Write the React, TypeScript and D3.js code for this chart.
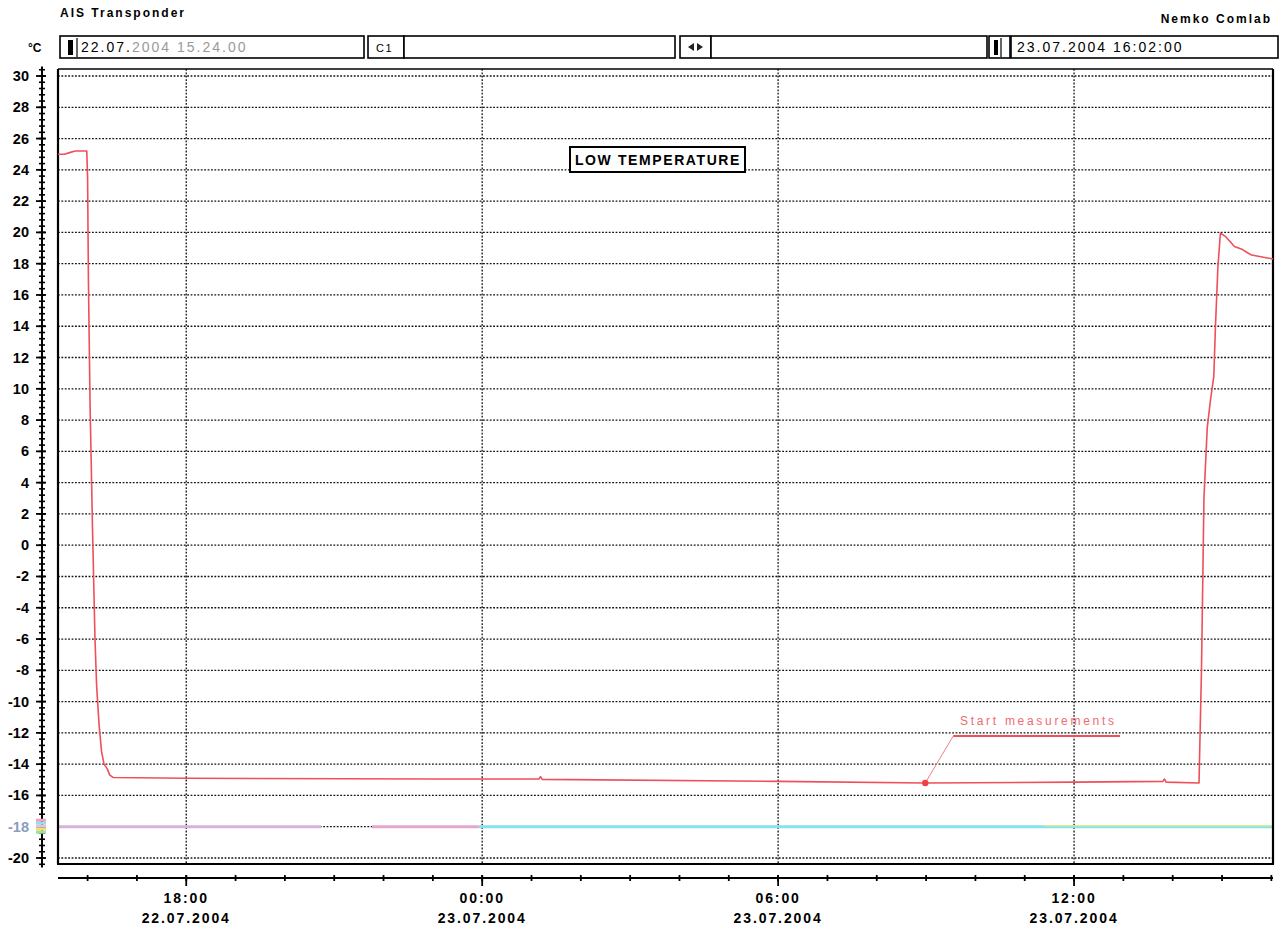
import React from "react";
import * as d3 from "d3";

const W = 1284;
const H = 932;

// Temperature series (time, °C)
const tempTimes = [
  "2004-07-22T15:24", "2004-07-22T15:32", "2004-07-22T15:38", "2004-07-22T15:45", "2004-07-22T15:59",
  "2004-07-22T16:00", "2004-07-22T16:01", "2004-07-22T16:03", "2004-07-22T16:06", "2004-07-22T16:09",
  "2004-07-22T16:11", "2004-07-22T16:14", "2004-07-22T16:17", "2004-07-22T16:20", "2004-07-22T16:24",
  "2004-07-22T16:27", "2004-07-22T16:31", "2004-07-22T18:00", "2004-07-22T23:00", "2004-07-23T01:09",
  "2004-07-23T01:11", "2004-07-23T01:13", "2004-07-23T06:00", "2004-07-23T08:59", "2004-07-23T12:00",
  "2004-07-23T13:48", "2004-07-23T13:50", "2004-07-23T13:52", "2004-07-23T14:32", "2004-07-23T14:35",
  "2004-07-23T14:38", "2004-07-23T14:42", "2004-07-23T14:46", "2004-07-23T14:50", "2004-07-23T14:52",
  "2004-07-23T14:55", "2004-07-23T14:58", "2004-07-23T15:04", "2004-07-23T15:10", "2004-07-23T15:15",
  "2004-07-23T15:25", "2004-07-23T15:31", "2004-07-23T15:36", "2004-07-23T15:52", "2004-07-23T16:02",
];
const tempValues = [
  25.0, 25.0, 25.1, 25.2, 25.2,
  23.5, 17.0, 9.0, 1.0, -6.0,
  -9.0, -11.5, -13.2, -14.0, -14.3,
  -14.7, -14.85, -14.9, -14.95, -14.95,
  -14.8, -14.97, -15.1, -15.2, -15.15,
  -15.1, -14.95, -15.15, -15.2, -8.0,
  3.0, 7.5, 9.3, 10.8, 14.0,
  17.8, 19.95, 19.75, 19.4, 19.1,
  18.9, 18.7, 18.55, 18.4, 18.3,
];

const yTicks = [30, 28, 26, 24, 22, 20, 18, 16, 14, 12, 10, 8, 6, 4, 2, 0, -2, -4, -6, -8, -10, -12, -14, -16, -18, -20];
const xMajorTicks = ["2004-07-22T18:00", "2004-07-23T00:00", "2004-07-23T06:00", "2004-07-23T12:00"];
const xTimeLabels = ["18:00", "00:00", "06:00", "12:00"];
const xDateLabels = ["22.07.2004", "23.07.2004", "23.07.2004", "23.07.2004"];

// reference line at -18 (segments)
const refValue = -18;
const refStarts = ["2004-07-22T15:24", "2004-07-22T21:46", "2004-07-22T23:56"];
const refEnds = ["2004-07-22T20:44", "2004-07-22T23:56", "2004-07-23T16:02"];
const refColors = ["#d8b0dc", "#e4a8cc", "#86e2ec"];

const startTime = "2004-07-22T15:24";
const endTime = "2004-07-23T16:02";
const endLabel = "23.07.2004 16:02:00";
const title = "LOW TEMPERATURE";
const chartName = "AIS Transponder";
const labName = "Nemko Comlab";
const annotationText = "Start measurements";
const annotationTime = "2004-07-23T08:59";
const annotationValue = -15.2;

const parse = d3.timeParse("%Y-%m-%dT%H:%M");
const FONT = "'Liberation Sans', Arial, sans-serif";

export default function App() {
  const x = d3.scaleTime().domain([parse(startTime)!, parse(endTime)!]).range([58, 1273]);
  const y = d3.scaleLinear().domain([-20, 30]).range([858, 76]);

  const pts: [Date, number][] = tempTimes.map((t, i) => [parse(t)!, tempValues[i]]);
  const line = d3
    .line<[Date, number]>()
    .x((d) => x(d[0]))
    .y((d) => y(d[1]));

  const plotL = 58, plotR = 1273, plotT = 69, plotB = 864;
  const axisY = 878;
  const spineX = 42;

  const minorHours = d3.timeHour.range(parse(startTime)!, parse(endTime)!);
  const minorY = d3.range(-20.4, 30.41, 0.4);

  const annX = x(parse(annotationTime)!);
  const annY = y(annotationValue);

  const box = (x0: number, x1: number, key: string) => (
    <rect key={key} x={x0} y={36} width={x1 - x0} height={22} fill="#fff" stroke="#000" strokeWidth={1.6} />
  );

  return (
    <svg width={W} height={H} style={{ position: "absolute", left: 0, top: 0, background: "#fff" }} fontFamily={FONT}>
      <rect x={0} y={0} width={W} height={H} fill="#fff" />
      {/* header */}
      <text x={60} y={17} fontSize={12} fontWeight="bold" letterSpacing={2}>{chartName}</text>
      <text x={1272} y={23} fontSize={12} fontWeight="bold" textAnchor="end" letterSpacing={2}>{labName}</text>
      <text x={28} y={52} fontSize={12} fontWeight="bold">°C</text>
      {box(60, 364, "b1")}
      <rect x={68} y={40} width={5} height={15} fill="#000" />
      <line x1={77} x2={77} y1={38} y2={57} stroke="#000" strokeWidth={1.2} />
      <text x={81} y={52} fontSize={14} letterSpacing={2}>
        <tspan fill="#000">22.07.</tspan>
        <tspan fill="#9a9a9a">2004 15.24.00</tspan>
      </text>
      {box(368, 404, "b2")}
      <text x={376} y={52} fontSize={11} letterSpacing={1.5}>C1</text>
      {box(404, 675, "b3")}
      {box(680, 711, "b4")}
      <path d="M688,47 L694,43 L694,51 Z M703,47 L697,43 L697,51 Z" fill="#222" />
      {box(711, 987, "b5")}
      {box(989, 1010, "b6")}
      <rect x={994} y={40} width={4} height={15} fill="#000" />
      <line x1={1001} x2={1001} y1={38} y2={57} stroke="#000" strokeWidth={1.2} />
      {box(1011, 1278, "b7")}
      <text x={1017} y={52} fontSize={14} letterSpacing={2}>{endLabel}</text>

      {/* grid horizontal */}
      {yTicks.map((v) => (
        <line key={"gy" + v} x1={plotL} x2={plotR} y1={y(v)} y2={y(v)} stroke="#111" strokeWidth={1.3} strokeDasharray="1.8,1.6" />
      ))}
      {/* grid vertical */}
      {xMajorTicks.map((t) => (
        <line key={"gx" + t} x1={x(parse(t)!)} x2={x(parse(t)!)} y1={plotT} y2={plotB} stroke="#111" strokeWidth={1.3} strokeDasharray="1.8,1.6" />
      ))}

      {/* reference line at -18 */}
      {refStarts.map((s, i) => (
        <line key={"ref" + i} x1={x(parse(s)!)} x2={x(parse(refEnds[i])!)} y1={y(refValue)} y2={y(refValue)} stroke={refColors[i]} strokeWidth={3} />
      ))}
      <line x1={x(parse("2004-07-23T11:24")!)} x2={plotR} y1={y(refValue) - 1} y2={y(refValue) - 1} stroke="#eef070" strokeWidth={1.5} opacity={0.7} />

      {/* frame */}
      <line x1={plotL} x2={plotR} y1={plotT} y2={plotT} stroke="#000" strokeWidth={1.5} />
      <line x1={plotL} x2={plotL} y1={plotT} y2={plotB} stroke="#000" strokeWidth={2.2} />
      <line x1={plotR} x2={plotR} y1={plotT} y2={plotB} stroke="#000" strokeWidth={2.2} />
      <line x1={plotL - 1} x2={plotR + 1} y1={plotB} y2={plotB} stroke="#000" strokeWidth={2.2} />

      {/* temperature curve */}
      <path d={line(pts) ?? ""} fill="none" stroke="#ef4f58" strokeWidth={1.6} strokeLinejoin="round" />

      {/* annotation */}
      <line x1={annX} y1={annY} x2={annX + 28} y2={y(-12.2)} stroke="#f08088" strokeWidth={1} />
      <line x1={annX + 28} x2={1120} y1={y(-12.2)} y2={y(-12.2)} stroke="#ef4f58" strokeWidth={1.8} />
      <circle cx={annX} cy={annY} r={3.2} fill="#ef3f48" />
      <text x={960} y={y(-11.5)} fontSize={12} fill="#ef6a70" letterSpacing={2.7}>{annotationText}</text>

      {/* title */}
      <rect x={570} y={147} width={175} height={25} fill="#fff" stroke="#000" strokeWidth={2} />
      <text x={658} y={165} fontSize={14} fontWeight="bold" textAnchor="middle" letterSpacing={1.6}>{title}</text>

      {/* left axis */}
      <line x1={spineX} x2={spineX} y1={y(30.6)} y2={y(-20.6)} stroke="#000" strokeWidth={2} />
      {minorY.map((v, i) => (
        <line key={"my" + i} x1={spineX - 3} x2={spineX + 3} y1={y(v)} y2={y(v)} stroke="#000" strokeWidth={1.6} />
      ))}
      {yTicks.map((v) => (
        <g key={"ly" + v}>
          <line x1={spineX - 6} x2={spineX + 4} y1={y(v)} y2={y(v)} stroke="#000" strokeWidth={1.8} />
          <text x={29} y={y(v) + 5} fontSize={14.5} fontWeight="bold" textAnchor="end" fill={v === -18 ? "#8a9cc0" : "#000"}>
            {v}
          </text>
        </g>
      ))}
      <rect x={36} y={y(-18) - 8} width={10} height={3} fill="#f0a0c0" />
      <rect x={36} y={y(-18) - 5} width={10} height={3} fill="#90e0f0" />
      <rect x={36} y={y(-18) - 2} width={10} height={3} fill="#e8c0e0" />
      <rect x={36} y={y(-18) + 1} width={10} height={3} fill="#f0e070" />
      <rect x={36} y={y(-18) + 4} width={10} height={3} fill="#a0e0a0" />

      {/* bottom axis */}
      <line x1={plotL} x2={plotR} y1={axisY} y2={axisY} stroke="#000" strokeWidth={2} />
      {minorHours.map((t, i) => (
        <line key={"mx" + i} x1={x(t)} x2={x(t)} y1={axisY - 3} y2={axisY + 3} stroke="#000" strokeWidth={1.8} />
      ))}
      {xMajorTicks.map((t, i) => {
        const px = x(parse(t)!);
        return (
          <g key={"lx" + t}>
            <line x1={px} x2={px} y1={axisY - 3} y2={axisY + 8} stroke="#000" strokeWidth={1.8} />
            <text x={px} y={903} fontSize={14} fontWeight="bold" textAnchor="middle" letterSpacing={1.9}>{xTimeLabels[i]}</text>
            <text x={px} y={923} fontSize={14} fontWeight="bold" textAnchor="middle" letterSpacing={1.9}>{xDateLabels[i]}</text>
          </g>
        );
      })}
    </svg>
  );
}
